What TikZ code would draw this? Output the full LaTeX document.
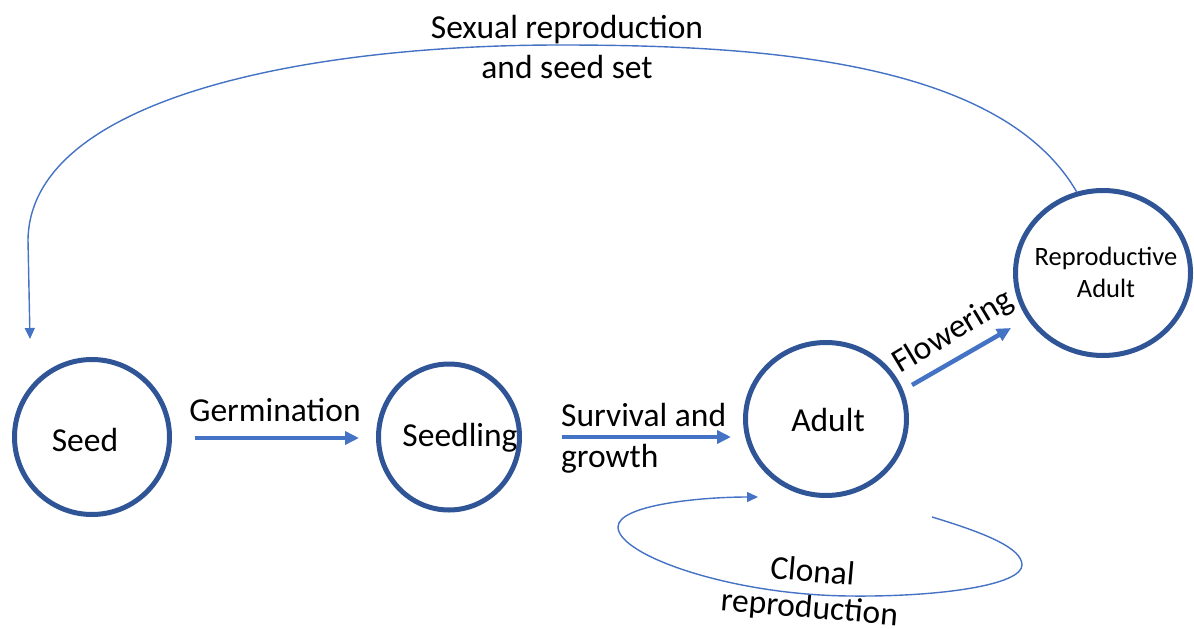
\documentclass[tikz,border=0pt]{standalone}
\usepackage{fontspec}
\setmainfont{Carlito}
\usetikzlibrary{shapes.geometric,arrows.meta}
\definecolor{ringblue}{HTML}{2F5597}
\definecolor{arrblue}{HTML}{4472C4}
\begin{document}
\begin{tikzpicture}[x=1pt,y=-1pt,
  stage/.style={draw=ringblue,line width=5pt,ellipse,inner sep=0pt},
  lbl/.style={font=\fontsize{33.5}{41}\selectfont,inner sep=0pt,align=center},
  bigarrow/.style={draw=arrblue,line width=4.5pt,-{Triangle[length=14pt,width=13pt]}},
  thinarrow/.style={draw=arrblue,line width=1.4pt,-{Triangle[length=11pt,width=10pt]}}]
\useasboundingbox (0,0) rectangle (1194,629);
% stages
\node[stage,minimum width=155pt,minimum height=155pt] (seed) at (92,437) {};
\node[stage,minimum width=141pt,minimum height=146pt] (seedling) at (449,437) {};
\node[stage,minimum width=161pt,minimum height=153pt] (adult) at (826,419) {};
\node[stage,minimum width=175pt,minimum height=165pt] (rep) at (1103,273) {};
\node[lbl] (seedtxt) at (85,440) {Seed};
\node[lbl] (seedlingtxt) at (460,438) {Seedling};
\node[lbl] (adulttxt) at (828,420) {Adult};
\node[lbl,font=\fontsize{26.5}{32}\selectfont] (reptxt) at (1106,272) {Reproductive\\Adult};
% labels
\node[lbl] (germ) at (275,410) {Germination};
\node[lbl,align=left,anchor=west] (surv) at (561,438) {Survival and\\growth};
\node[lbl,rotate=31] (flow) at (953,332) {Flowering};
\node[lbl,font=\fontsize{33.5}{40}\selectfont] (sex) at (567,47) {Sexual reproduction\\and seed set};
\node[lbl,rotate=-5,font=\fontsize{33.5}{36}\selectfont] (clon) at (811,591) {Clonal\\reproduction};
% coordinates
\coordinate (germA) at (195,438);
\coordinate (germB) at (359,438);
\coordinate (survA) at (562,437);
\coordinate (survB) at (731,437);
\coordinate (flowA) at (912,385);
\coordinate (flowB) at (1011,328);
\coordinate (seedin) at (30,339);
\coordinate (clA) at (932,517);
\coordinate (clB) at (758,497);
% arrows
\draw[bigarrow] (germA) -- (germB);
\draw[bigarrow] (survA) -- (survB);
\draw[bigarrow] (flowA) -- (flowB);
\draw[thinarrow] (rep.108) .. controls (1000,60) and (760,45) .. (560,45)
   .. controls (300,45) and (30,100) .. (28,240) -- (seedin);
\draw[thinarrow] (clA) .. controls (985,533) and (1022,548) .. (1022,565)
   .. controls (1022,585) and (940,597) .. (850,596)
   .. controls (730,595) and (618,555) .. (618,527)
   .. controls (618,505) and (700,497) .. (clB);
\end{tikzpicture}
\end{document}
